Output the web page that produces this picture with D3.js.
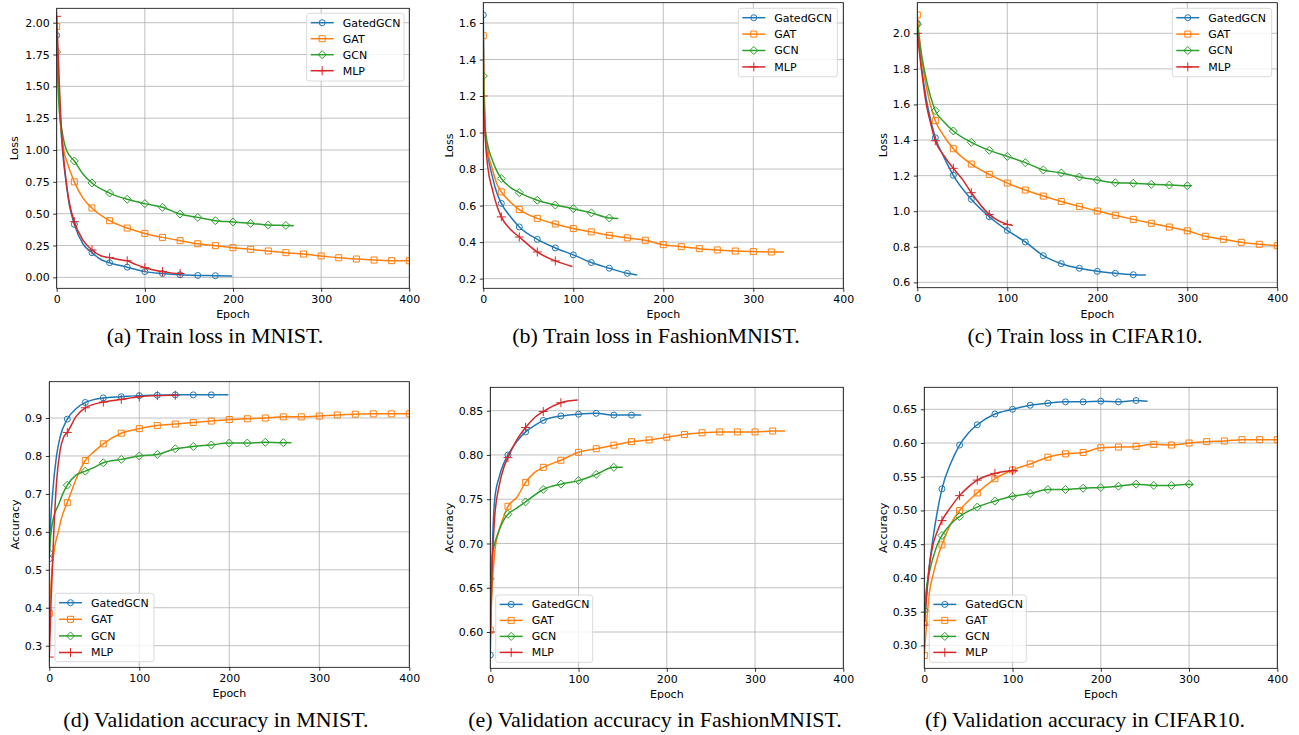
<!DOCTYPE html>
<html>
<head>
<meta charset="utf-8">
<script src="https://cdn.jsdelivr.net/npm/d3@7"></script>
<style>
  body { margin: 0; background: #fff; }
  svg { display: block; }
</style>
</head>
<body>
<svg id="fig" width="1299" height="735"></svg>
<script>
// models, in drawing order
const models = ["GatedGCN", "GAT", "GCN", "MLP"];
const modelColors = ["#1f77b4", "#ff7f0e", "#2ca02c", "#d62728"];
const modelMarkers = ["circle", "square", "diamond", "plus"];

// tick labels
const epochTicks = [0, 100, 200, 300, 400];
const ticksLossMnist = [0.00, 0.25, 0.50, 0.75, 1.00, 1.25, 1.50, 1.75, 2.00];
const ticksLossFashion = [0.2, 0.4, 0.6, 0.8, 1.0, 1.2, 1.4, 1.6];
const ticksLossCifar = [0.6, 0.8, 1.0, 1.2, 1.4, 1.6, 1.8, 2.0];
const ticksAccMnist = [0.3, 0.4, 0.5, 0.6, 0.7, 0.8, 0.9];
const ticksAccFashion = [0.60, 0.65, 0.70, 0.75, 0.80, 0.85];
const ticksAccCifar = [0.30, 0.35, 0.40, 0.45, 0.50, 0.55, 0.60, 0.65];

// (a) train loss MNIST  [epoch, value]
const lossMnistGatedGCN = [[0,1.90],[2,1.55],[4,1.25],[7,0.97],[10,0.78],[14,0.58],[20,0.416],[30,0.26],[40,0.194],[50,0.14],[60,0.115],[80,0.08],[100,0.045],[120,0.03],[140,0.02],[160,0.015],[180,0.013],[199,0.01]];
const lossMnistGAT = [[0,1.97],[2,1.60],[4,1.27],[8,1.0],[12,0.9],[20,0.75],[30,0.62],[40,0.545],[60,0.445],[80,0.387],[100,0.345],[120,0.314],[140,0.288],[160,0.264],[180,0.249],[200,0.233],[220,0.22],[240,0.207],[260,0.194],[280,0.183],[300,0.168],[320,0.154],[340,0.144],[360,0.136],[380,0.131],[400,0.13]];
const lossMnistGCN = [[0,1.77],[3,1.30],[6,1.15],[11,1.0],[20,0.914],[30,0.81],[40,0.741],[60,0.662],[80,0.613],[100,0.579],[120,0.55],[140,0.497],[160,0.471],[180,0.445],[200,0.435],[220,0.424],[240,0.411],[260,0.408],[269,0.406]];
const lossMnistMLP = [[0,2.05],[2,1.70],[4,1.35],[7,1.0],[10,0.8],[14,0.6],[20,0.437],[30,0.29],[40,0.215],[50,0.17],[60,0.155],[70,0.14],[80,0.13],[90,0.1],[100,0.076],[120,0.045],[140,0.03],[141,0.03]];

// (b) train loss FashionMNIST
const lossFashionGatedGCN = [[0,1.644],[1,1.25],[2,1.02],[5,0.88],[10,0.76],[15,0.67],[20,0.612],[30,0.54],[40,0.483],[60,0.415],[80,0.368],[100,0.33],[120,0.288],[140,0.257],[160,0.229],[171,0.22]];
const lossFashionGAT = [[0,1.53],[1,1.2],[2,1.02],[5,0.9],[10,0.8],[15,0.72],[20,0.675],[30,0.62],[40,0.578],[60,0.53],[80,0.499],[100,0.474],[120,0.456],[140,0.437],[160,0.423],[180,0.41],[200,0.386],[220,0.375],[240,0.364],[260,0.357],[280,0.351],[300,0.348],[320,0.346],[334,0.346]];
const lossFashionGCN = [[0,1.31],[1,1.15],[2,1.03],[5,0.93],[10,0.85],[15,0.79],[20,0.748],[30,0.7],[40,0.671],[60,0.629],[80,0.603],[100,0.583],[120,0.56],[140,0.532],[150,0.529]];
const lossFashionMLP = [[0,1.2],[1,1.08],[2,0.98],[5,0.81],[10,0.69],[15,0.6],[20,0.538],[30,0.47],[40,0.428],[50,0.385],[60,0.346],[80,0.297],[99,0.266]];

// (c) train loss CIFAR10
const lossCifarGatedGCN = [[0,2.056],[5,1.8],[10,1.63],[15,1.51],[20,1.413],[30,1.3],[40,1.202],[60,1.067],[80,0.969],[100,0.892],[120,0.827],[140,0.75],[160,0.705],[180,0.679],[200,0.662],[220,0.651],[240,0.643],[254,0.641]];
const lossCifarGAT = [[0,2.103],[5,1.85],[10,1.7],[15,1.59],[20,1.509],[30,1.42],[40,1.351],[60,1.265],[80,1.207],[100,1.158],[120,1.119],[140,1.085],[160,1.055],[180,1.027],[200,1.001],[220,0.977],[240,0.954],[260,0.932],[280,0.911],[300,0.89],[320,0.859],[340,0.842],[360,0.825],[380,0.814],[400,0.806]];
const lossCifarGCN = [[0,2.049],[5,1.87],[10,1.74],[15,1.64],[20,1.565],[30,1.5],[40,1.451],[60,1.387],[80,1.342],[100,1.308],[120,1.273],[140,1.232],[160,1.215],[180,1.192],[200,1.175],[220,1.16],[240,1.157],[260,1.151],[280,1.147],[300,1.143],[305,1.143]];
const lossCifarMLP = [[0,2.0],[5,1.78],[10,1.6],[15,1.49],[20,1.396],[30,1.31],[40,1.241],[50,1.18],[60,1.104],[80,0.982],[100,0.926],[106,0.919]];

// (d) validation accuracy MNIST
const accMnistGatedGCN = [[0,0.529],[1,0.6],[4,0.71],[8,0.8],[12,0.85],[20,0.897],[30,0.925],[40,0.941],[60,0.953],[80,0.956],[100,0.959],[120,0.96],[140,0.961],[160,0.961],[180,0.961],[199,0.961]];
const accMnistGAT = [[0,0.385],[3,0.5],[6,0.56],[10,0.6],[14,0.64],[20,0.677],[30,0.74],[40,0.788],[50,0.812],[60,0.832],[80,0.86],[100,0.872],[120,0.88],[140,0.884],[160,0.888],[180,0.892],[200,0.896],[220,0.898],[240,0.9],[260,0.903],[280,0.903],[300,0.905],[320,0.908],[340,0.91],[360,0.911],[380,0.911],[400,0.911]];
const accMnistGCN = [[0,0.544],[2,0.6],[5,0.64],[10,0.67],[15,0.7],[20,0.723],[30,0.75],[40,0.76],[50,0.77],[60,0.782],[80,0.791],[100,0.8],[120,0.804],[140,0.819],[160,0.825],[180,0.829],[200,0.834],[220,0.834],[240,0.836],[260,0.835],[269,0.835]];
const accMnistMLP = [[0,0.27],[2,0.42],[5,0.6],[8,0.73],[12,0.815],[16,0.85],[20,0.862],[30,0.905],[40,0.927],[60,0.942],[80,0.949],[100,0.956],[120,0.959],[140,0.96],[141,0.96]];

// (e) validation accuracy FashionMNIST
const accFashionGatedGCN = [[0,0.574],[2,0.68],[5,0.75],[10,0.775],[15,0.79],[20,0.8],[30,0.815],[40,0.826],[50,0.833],[60,0.839],[80,0.844],[100,0.846],[120,0.847],[140,0.845],[160,0.845],[171,0.845]];
const accFashionGAT = [[0,0.602],[2,0.65],[5,0.69],[10,0.715],[15,0.73],[20,0.742],[30,0.752],[40,0.769],[50,0.78],[60,0.786],[80,0.794],[100,0.803],[120,0.807],[140,0.811],[160,0.815],[180,0.817],[200,0.82],[220,0.823],[240,0.825],[260,0.826],[280,0.826],[300,0.826],[320,0.827],[334,0.827]];
const accFashionGCN = [[0,0.66],[2,0.685],[5,0.7],[10,0.715],[15,0.726],[20,0.733],[30,0.74],[40,0.747],[60,0.761],[80,0.767],[100,0.771],[120,0.778],[140,0.786],[150,0.786]];
const accFashionMLP = [[0,0.6],[2,0.67],[5,0.73],[10,0.765],[15,0.785],[20,0.797],[30,0.817],[40,0.831],[50,0.842],[60,0.849],[80,0.859],[99,0.862]];

// (f) validation accuracy CIFAR10
const accCifarGatedGCN = [[0,0.333],[5,0.41],[10,0.46],[15,0.5],[20,0.532],[30,0.57],[40,0.597],[50,0.615],[60,0.627],[80,0.643],[100,0.65],[120,0.656],[140,0.659],[160,0.661],[180,0.661],[200,0.662],[220,0.661],[240,0.663],[253,0.662]];
const accCifarGAT = [[0,0.285],[3,0.34],[6,0.38],[10,0.405],[15,0.43],[20,0.449],[30,0.48],[40,0.5],[60,0.526],[80,0.547],[100,0.56],[120,0.569],[140,0.579],[160,0.584],[180,0.586],[200,0.593],[220,0.594],[240,0.595],[260,0.598],[280,0.597],[300,0.6],[320,0.602],[340,0.603],[360,0.605],[380,0.605],[400,0.605]];
const accCifarGCN = [[0,0.352],[3,0.39],[6,0.41],[10,0.43],[15,0.45],[20,0.463],[30,0.48],[40,0.491],[60,0.505],[80,0.514],[100,0.521],[120,0.525],[140,0.531],[160,0.531],[180,0.533],[200,0.534],[220,0.536],[240,0.539],[260,0.537],[280,0.537],[300,0.539],[305,0.538]];
const accCifarMLP = [[0,0.33],[3,0.38],[6,0.42],[10,0.45],[15,0.47],[20,0.485],[30,0.505],[40,0.522],[50,0.535],[60,0.545],[80,0.555],[100,0.559],[106,0.559]];

const MARK_EVERY = 20

// panel layout: plot box, y range, legend box, caption centre
const panels = [
  { series: [lossMnistGatedGCN, lossMnistGAT, lossMnistGCN, lossMnistMLP], yTicks: ticksLossMnist, fmt: ".2f", yLabel: "Loss",
    caption: "(a) Train loss in MNIST.",
    box: {l: 56.7, r: 409.3, t: 8.3, b: 288.3}, yDom: [-0.086, 2.113],
    legend: {x: 306.7, y: 13.3, w: 97.3, h: 67.7, step: 16}, capX: 215, capY: 343, ylabX: 14.5 },
  { series: [lossFashionGatedGCN, lossFashionGAT, lossFashionGCN, lossFashionMLP], yTicks: ticksLossFashion, fmt: ".1f", yLabel: "Loss",
    caption: "(b) Train loss in FashionMNIST.",
    box: {l: 483.3, r: 843.3, t: 2.7, b: 288.3}, yDom: [0.147, 1.711],
    legend: {x: 738.3, y: 8.3, w: 99, h: 68.4, step: 16.4}, capX: 656, capY: 343, ylabX: 449 },
  { series: [lossCifarGatedGCN, lossCifarGAT, lossCifarGCN, lossCifarMLP], yTicks: ticksLossCifar, fmt: ".1f", yLabel: "Loss",
    caption: "(c) Train loss in CIFAR10.",
    box: {l: 917.3, r: 1277.3, t: 2.7, b: 287.7}, yDom: [0.570, 2.172],
    legend: {x: 1172.3, y: 8.3, w: 99.4, h: 68.4, step: 16.4}, capX: 1085, capY: 343, ylabX: 883 },
  { series: [accMnistGatedGCN, accMnistGAT, accMnistGCN, accMnistMLP], yTicks: ticksAccMnist, fmt: ".1f", yLabel: "Accuracy",
    caption: "(d) Validation accuracy in MNIST.",
    box: {l: 49.3, r: 409.3, t: 381.7, b: 667.3}, yDom: [0.243, 0.9957],
    legend: {x: 55, y: 593.3, w: 99, h: 68.4, step: 16.6}, capX: 216, capY: 727, ylabX: 15 },
  { series: [accFashionGatedGCN, accFashionGAT, accFashionGCN, accFashionMLP], yTicks: ticksAccFashion, fmt: ".2f", yLabel: "Accuracy",
    caption: "(e) Validation accuracy in FashionMNIST.",
    box: {l: 490.3, r: 843.3, t: 387.3, b: 668.3}, yDom: [0.559, 0.8764],
    legend: {x: 495.7, y: 595, w: 97, h: 67.3, step: 16}, capX: 655, capY: 727, ylabX: 449 },
  { series: [accCifarGatedGCN, accCifarGAT, accCifarGCN, accCifarMLP], yTicks: ticksAccCifar, fmt: ".2f", yLabel: "Accuracy",
    caption: "(f) Validation accuracy in CIFAR10.",
    box: {l: 924.3, r: 1277.3, t: 387.3, b: 668.3}, yDom: [0.266, 0.6826],
    legend: {x: 929.3, y: 595, w: 97, h: 67.3, step: 16}, capX: 1085, capY: 727, ylabX: 883 }
];

const FONT = "DejaVu Sans, sans-serif"

function markerPath(kind){
  if(kind === "circle") return d3.symbol(d3.symbolCircle, Math.PI * 3 * 3)()
  if(kind === "square") return "M-3,-3H3V3H-3Z"
  if(kind === "diamond") return "M0,-4L4,0L0,4L-4,0Z"
  return "M-4.5,0H4.5M0,-4.5V4.5"
}

let svg = d3.select("#fig")
svg.append("rect").attr("width", 1299).attr("height", 735).attr("fill", "#fff")

panels.forEach(function(p, pi){

  let x = d3.scaleLinear().domain([0, 400]).range([p.box.l, p.box.r])
  let y = d3.scaleLinear().domain(p.yDom).range([p.box.b, p.box.t])
  let w = p.box.r - p.box.l
  let h = p.box.b - p.box.t

  let g = svg.append("g")

  g.append("clipPath").attr("id", "clip" + pi)
    .append("rect").attr("x", p.box.l).attr("y", p.box.t).attr("width", w).attr("height", h)

  // GRID
  g.append("g").selectAll("line").data(epochTicks).enter().append("line")
    .attr("x1", d => x(d)).attr("x2", d => x(d)).attr("y1", p.box.t).attr("y2", p.box.b)
    .attr("stroke", "#b0b0b0").attr("stroke-width", 0.8)
  g.append("g").selectAll("line").data(p.yTicks).enter().append("line")
    .attr("x1", p.box.l).attr("x2", p.box.r).attr("y1", d => y(d)).attr("y2", d => y(d))
    .attr("stroke", "#b0b0b0").attr("stroke-width", 0.8)

  // LINES + MARKERS
  let plot = g.append("g").attr("clip-path", `url(#clip${pi})`)
  let line = d3.line().x(d => x(d[0])).y(d => y(d[1])).curve(d3.curveMonotoneX)

  p.series.forEach(function(s, si){
    plot.append("path").datum(s).attr("d", line)
      .attr("fill", "none").attr("stroke", modelColors[si]).attr("stroke-width", 1.5)
    plot.append("g").selectAll("path")
      .data(s.filter(d => d[0] % MARK_EVERY === 0))
      .enter().append("path")
      .attr("d", markerPath(modelMarkers[si]))
      .attr("transform", d => `translate(${x(d[0])},${y(d[1])})`)
      .attr("fill", "none").attr("stroke", modelColors[si]).attr("stroke-width", 1)
  })

  // FRAME
  g.append("rect").attr("x", p.box.l).attr("y", p.box.t).attr("width", w).attr("height", h)
    .attr("fill", "none").attr("stroke", "#000").attr("stroke-width", 0.8)

  // AXES
  let xAxis = g.append("g").attr("transform", `translate(0,${p.box.b})`)
    .call(d3.axisBottom(x).tickValues(epochTicks).tickSize(3.5).tickPadding(3).tickFormat(d3.format("d")))
  let yAxis = g.append("g").attr("transform", `translate(${p.box.l},0)`)
    .call(d3.axisLeft(y).tickValues(p.yTicks).tickSize(3.5).tickPadding(3.5).tickFormat(d3.format(p.fmt)))
  ;[xAxis, yAxis].forEach(function(a){
    a.select(".domain").remove()
    a.attr("font-family", FONT).attr("font-size", 11)
    a.selectAll("line").attr("stroke", "#000").attr("stroke-width", 0.8)
    a.selectAll("text").attr("fill", "#000")
  })

  // AXIS LABELS
  g.append("text").attr("x", (p.box.l + p.box.r) / 2).attr("y", p.box.b + 30)
    .attr("text-anchor", "middle").attr("font-family", FONT).attr("font-size", 11).text("Epoch")
  g.append("text")
    .attr("transform", `translate(${p.ylabX},${(p.box.t + p.box.b) / 2}) rotate(-90)`)
    .attr("text-anchor", "middle").attr("dy", "0.35em")
    .attr("font-family", FONT).attr("font-size", 11).text(p.yLabel)

  // LEGEND
  let lg = g.append("g")
  lg.append("rect").attr("x", p.legend.x).attr("y", p.legend.y).attr("width", p.legend.w).attr("height", p.legend.h)
    .attr("rx", 2.5).attr("fill", "#fff").attr("fill-opacity", 0.8).attr("stroke", "#d0d0d0").attr("stroke-width", 0.8)
  models.forEach(function(m, mi){
    let ry = p.legend.y + 9.4 + mi * p.legend.step
    let lx = p.legend.x + 4
    lg.append("line").attr("x1", lx).attr("x2", lx + 23).attr("y1", ry).attr("y2", ry)
      .attr("stroke", modelColors[mi]).attr("stroke-width", 1.5)
    lg.append("path").attr("d", markerPath(modelMarkers[mi]))
      .attr("transform", `translate(${lx + 11.5},${ry})`)
      .attr("fill", "none").attr("stroke", modelColors[mi]).attr("stroke-width", 1)
    lg.append("text").attr("x", p.legend.x + 36).attr("y", ry).attr("dy", "0.35em")
      .attr("font-family", FONT).attr("font-size", 11).text(m)
  })

  // CAPTION
  svg.append("text").attr("x", p.capX).attr("y", p.capY).attr("text-anchor", "middle")
    .attr("font-family", "Liberation Serif, Times New Roman, serif").attr("font-size", 22)
    .text(p.caption)
})
</script>
</body>
</html>
